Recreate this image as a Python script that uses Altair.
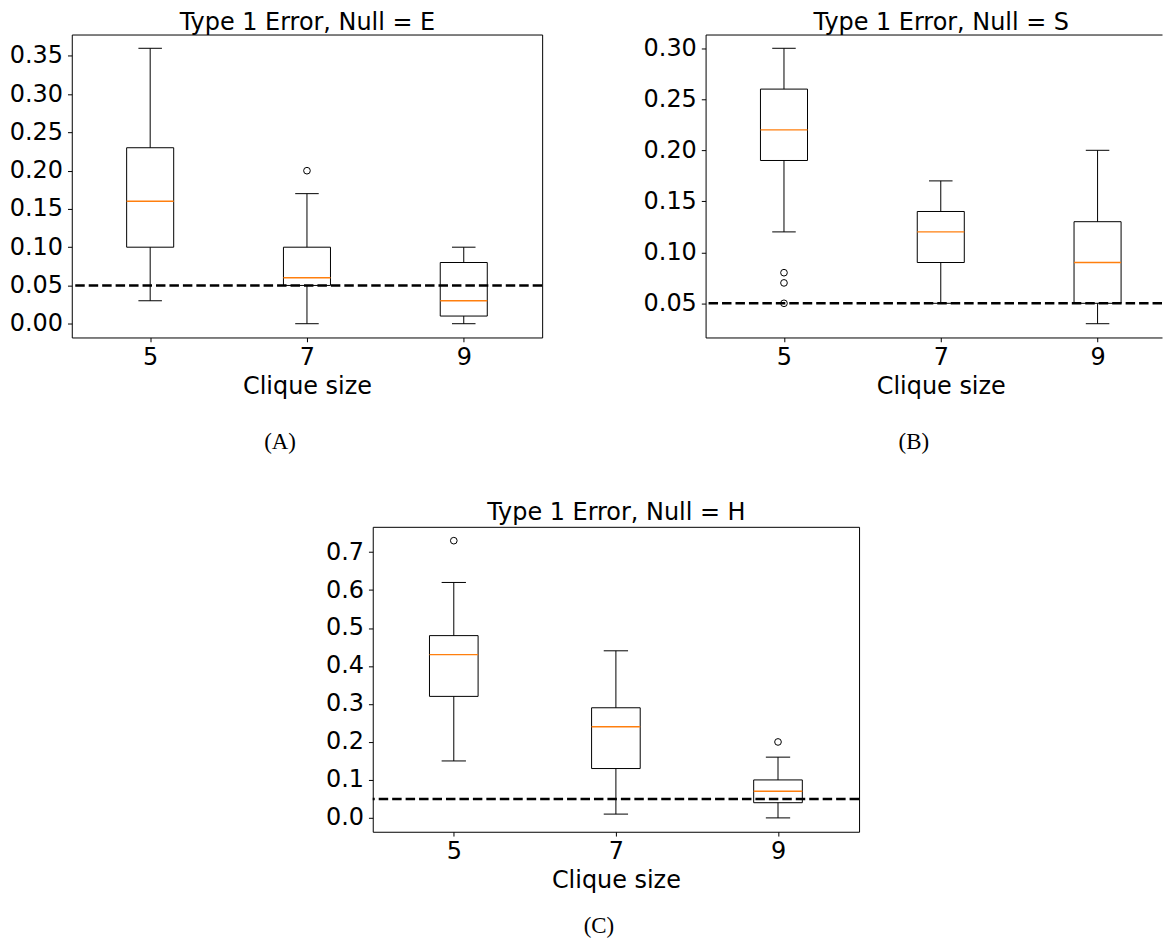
import altair as alt
import pandas as pd

# ---------------- data ----------------
positions = [5, 7, 9]
null_level = 0.05

# Panel A: Null = E
a_lo = [0.03, 0.00, 0.00]
a_q1 = [0.10, 0.05, 0.01]
a_med = [0.16, 0.06, 0.03]
a_q3 = [0.23, 0.10, 0.08]
a_hi = [0.36, 0.17, 0.10]
a_out_x = [7]
a_out_y = [0.20]
a_ticks = [0.00, 0.05, 0.10, 0.15, 0.20, 0.25, 0.30, 0.35]

# Panel B: Null = S
b_lo = [0.12, 0.05, 0.03]
b_q1 = [0.19, 0.09, 0.05]
b_med = [0.22, 0.12, 0.09]
b_q3 = [0.26, 0.14, 0.13]
b_hi = [0.30, 0.17, 0.20]
b_out_x = [5, 5, 5]
b_out_y = [0.08, 0.07, 0.05]
b_ticks = [0.05, 0.10, 0.15, 0.20, 0.25, 0.30]

# Panel C: Null = H
c_lo = [0.15, 0.01, 0.00]
c_q1 = [0.32, 0.13, 0.04]
c_med = [0.43, 0.24, 0.07]
c_q3 = [0.48, 0.29, 0.10]
c_hi = [0.62, 0.44, 0.16]
c_out_x = [5, 9]
c_out_y = [0.73, 0.20]
c_ticks = [0.0, 0.1, 0.2, 0.3, 0.4, 0.5, 0.6, 0.7]

FONT = "DejaVu Sans"
ORANGE = "#ff7f0e"


def padded(lo, hi, out):
    vals = list(lo) + list(hi) + list(out)
    mn, mx = min(vals), max(vals)
    m = 0.05 * (mx - mn)
    return [mn - m, mx + m]


def panel(title, caption, lo, q1, med, q3, hi, ox, oy, yticks, yfmt,
          width, height, xmax=10, cap_offset=33, cap_dx=-27, title_pad=0.0,
          open_right=False, title_x=None):
    df = pd.DataFrame({"pos": positions, "lo": lo, "q1": q1, "med": med,
                       "q3": q3, "hi": hi})
    df["left"] = df["pos"] - 0.3
    df["right"] = df["pos"] + 0.3
    df["cl"] = df["pos"] - 0.15
    df["cr"] = df["pos"] + 0.15
    out = pd.DataFrame({"pos": ox, "val": oy})
    ref = pd.DataFrame({"level": [null_level]})

    dom = dict(domain=True, domainColor="black", domainWidth=1) if open_right \
        else dict(domain=False)
    tx = dict(titleX=title_x) if title_x is not None else {}

    xscale = alt.Scale(domain=[4, xmax], nice=False, zero=False)
    yscale = alt.Scale(domain=padded(lo, hi, oy), nice=False, zero=False)
    xaxis = alt.Axis(values=positions, format="d", title="Clique size",
                     labelPadding=3.5, titlePadding=5, orient="bottom", **dom, **tx)
    yaxis = alt.Axis(values=yticks, format=yfmt, title=None, labelPadding=5, **dom)
    topaxis = alt.Axis(orient="top", labels=False, ticks=False, grid=False,
                       title=title, titlePadding=title_pad, **dom, **tx)

    def X(f):
        return alt.X(f, type="quantitative", scale=xscale, axis=xaxis,
                     title="Clique size")

    def Y(f):
        return alt.Y(f, type="quantitative", scale=yscale, axis=yaxis, title=None)

    base = alt.Chart(df)
    box = base.mark_rect(fill="white", stroke="black", strokeWidth=1).encode(
        x=X("left"), x2="right", y=Y("q1"), y2="q3")
    wlo = base.mark_rule(color="black", strokeWidth=1).encode(
        x=X("pos"), y=Y("lo"), y2="q1")
    whi = base.mark_rule(color="black", strokeWidth=1).encode(
        x=X("pos"), y=Y("q3"), y2="hi")
    clo = base.mark_rule(color="black", strokeWidth=1).encode(
        x=X("cl"), x2="cr", y=Y("lo"))
    chi = base.mark_rule(color="black", strokeWidth=1).encode(
        x=X("cl"), x2="cr", y=Y("hi"))
    medl = base.mark_rule(color=ORANGE, strokeWidth=1.4).encode(
        x=X("left"), x2="right", y=Y("med"))
    outl = alt.Chart(out).mark_point(shape="circle", filled=False, color="black",
                                     size=45, strokeWidth=1, opacity=1).encode(
        x=X("pos"), y=Y("val"))
    refl = alt.Chart(ref).mark_rule(color="black", strokeWidth=2.5,
                                    strokeDash=[9.5, 4]).encode(y=Y("level"))

    inner = alt.layer(box, wlo, whi, clo, chi, medl, outl, refl)
    toplayer = base.mark_rule(strokeOpacity=0, opacity=0).encode(
        x=alt.X("pos", type="quantitative", scale=xscale, axis=topaxis,
                title=title))

    props = dict(width=width, height=height,
                 title=alt.Title(caption, orient="bottom", anchor="middle",
                                 font="Liberation Serif", fontSize=23,
                                 fontWeight="normal", color="black",
                                 baseline="top", offset=cap_offset, dx=cap_dx))
    if open_right:
        props["view"] = alt.ViewBackground(strokeOpacity=0)
    return alt.layer(inner, toplayer).resolve_axis(x="independent").properties(**props)


pA = panel("Type 1 Error, Null = E", "(A)", a_lo, a_q1, a_med, a_q3, a_hi,
           a_out_x, a_out_y, a_ticks, ".2f", 472, 304, cap_dx=-27)
# panel B runs past the right edge of the figure in the reference: same unit
# spacing as panel A, frame open on the right
pB = panel("Type 1 Error, Null = S", "(B)", b_lo, b_q1, b_med, b_q3, b_hi,
           b_out_x, b_out_y, b_ticks, ".2f", 458, 304, xmax=9.822, cap_dx=-20,
           open_right=True, title_x=236)
pC = panel("Type 1 Error, Null = H", "(C)", c_lo, c_q1, c_med, c_q3, c_hi,
           c_out_x, c_out_y, c_ticks, ".1f", 488, 306, cap_offset=23,
           cap_dx=-17, title_pad=2.3)

spacer = alt.Chart(pd.DataFrame({"v": [0]})).mark_rule(strokeOpacity=0).encode(
    x=alt.value(0), y=alt.value(0), y2=alt.value(1)
).properties(width=254, height=1,
             view=alt.ViewBackground(strokeOpacity=0, fillOpacity=0))

top = alt.hconcat(pA, pB, spacing=99)
bottom = alt.hconcat(spacer, pC, spacing=0)

chart = alt.vconcat(top, bottom, spacing=45).properties(
    padding={"left": 0, "top": 0, "right": 0, "bottom": 0}
).configure_view(
    stroke="black", strokeWidth=1
).configure_axis(
    labelFont=FONT, labelFontSize=24, labelColor="black",
    titleFont=FONT, titleFontSize=24, titleFontWeight="normal", titleColor="black",
    tickColor="black", tickSize=4.3, tickWidth=1, grid=False,
    labelFlush=False, labelOverlap=False
)

chart.save("out.html", embed_options={"renderer": "svg", "actions": False})
